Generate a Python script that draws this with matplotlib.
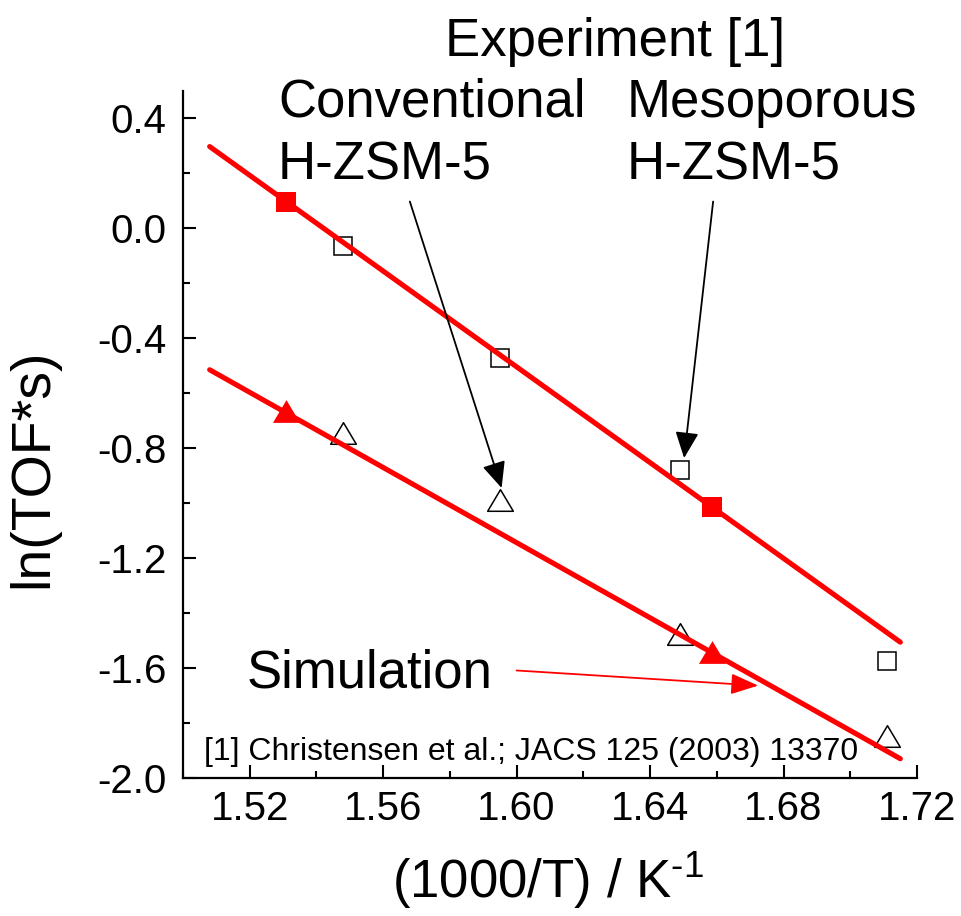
import matplotlib
matplotlib.use("Agg")
from matplotlib import pyplot as plt
from matplotlib.path import Path
from matplotlib.ticker import MultipleLocator, FormatStrFormatter

plt.rcParams["font.family"] = ["Liberation Sans", "DejaVu Sans"]
plt.rcParams["axes.unicode_minus"] = False
plt.rcParams["mathtext.fontset"] = "custom"
plt.rcParams["mathtext.rm"] = "Liberation Sans"
plt.rcParams["mathtext.it"] = "Liberation Sans:italic"

# simulated rates (filled red) and the straight Arrhenius fits through them
sim_x = [1.531, 1.6585]
sim_meso = [0.095, -1.013]
sim_conv = [-0.665, -1.540]
fit_x = [1.508, 1.715]
fit_meso = [0.297, -1.506]
fit_conv = [-0.515, -1.930]

# experimental rates, Christensen et al. (open symbols)
exp_x = [1.548, 1.595, 1.649, 1.711]
exp_meso = [-0.063, -0.471, -0.879, -1.575]
exp_conv = [-0.744, -0.989, -1.477, -1.849]

# flattened up-triangle, wider than tall
tri = Path([(0, 0.84), (-1, -0.84), (1, -0.84), (0, 0.84)],
           [Path.MOVETO, Path.LINETO, Path.LINETO, Path.CLOSEPOLY])

fig = plt.figure(figsize=(9.61, 9.16), dpi=100)
ax = fig.add_axes([0.1904, 0.1507, 0.7638, 0.7502])

ax.plot(exp_x, exp_meso, linestyle="", marker="s", markersize=13.5,
        markerfacecolor="white", markeredgecolor="black", markeredgewidth=1.1, zorder=2)
ax.plot(exp_x, exp_conv, linestyle="", marker=tri, markersize=18.5,
        markerfacecolor="white", markeredgecolor="black", markeredgewidth=1.1, zorder=2)

ax.plot(fit_x, fit_meso, color="red", lw=3.7, solid_capstyle="round", zorder=3)
ax.plot(fit_x, fit_conv, color="red", lw=3.7, solid_capstyle="round", zorder=3)

ax.plot(sim_x, sim_meso, linestyle="", marker="s", markersize=15,
        color="red", markeredgewidth=0, zorder=4)
ax.plot(sim_x, sim_conv, linestyle="", marker=tri, markersize=19.5,
        color="red", markeredgewidth=0, zorder=4)

ax.set_xlim(1.50, 1.72)
ax.set_ylim(-2.0, 0.5)
ax.xaxis.set_major_locator(MultipleLocator(0.04))
ax.xaxis.set_minor_locator(MultipleLocator(0.02))
ax.yaxis.set_major_locator(MultipleLocator(0.4))
ax.yaxis.set_minor_locator(MultipleLocator(0.2))
ax.xaxis.set_major_formatter(FormatStrFormatter("%.2f"))
ax.yaxis.set_major_formatter(FormatStrFormatter("%.1f"))

for side in ["top", "right"]:
    ax.spines[side].set_visible(False)
for side in ["left", "bottom"]:
    ax.spines[side].set_linewidth(1.6)

ax.tick_params(which="both", direction="in", width=1.5, top=False, right=False)
ax.tick_params(which="major", length=9.5, labelsize=29)
ax.tick_params(which="minor", length=5)
ax.tick_params(axis="x", which="major", pad=9)
ax.tick_params(axis="y", which="major", pad=12)

ax.set_xlabel(r"(1000/T) / K$^{\text{-1}}$", fontsize=38)
ax.set_ylabel("ln(TOF*s)", fontsize=40)
ax.xaxis.set_label_coords(0.497, -0.105)
ax.yaxis.set_label_coords(-0.168, 0.45)

# labels above and inside the plot
W, H = 961.0, 916.0
def label(px, py, s, size=38):
    fig.text(px / W, 1 - py / H, s, fontsize=size, ha="left", va="baseline")

label(445, 56, "Experiment [1]")
label(278, 117, "Conventional")
label(278, 180, "H-ZSM-5")
label(627, 117, "Mesoporous")
label(627, 180, "H-ZSM-5")
label(247, 688, "Simulation")
label(204, 760, "[1] Christensen et al.; JACS 125 (2003) 13370", size=23)

black_arrow = dict(arrowstyle="-|>,head_length=1.0,head_width=0.45", color="black",
                   lw=1.3, shrinkA=0, shrinkB=0, mutation_scale=16)
red_arrow = dict(arrowstyle="-|>,head_length=1.05,head_width=0.4", color="red",
                 lw=1.3, shrinkA=0, shrinkB=0, mutation_scale=16)
ax.annotate("", xy=(1.5955, -0.945), xytext=(1.568, 0.097),
            arrowprops=black_arrow, annotation_clip=False)
ax.annotate("", xy=(1.6502, -0.836), xytext=(1.6589, 0.097),
            arrowprops=black_arrow, annotation_clip=False)
ax.annotate("", xy=(1.6724, -1.664), xytext=(1.600, -1.609),
            arrowprops=red_arrow, annotation_clip=False)

fig.savefig("out.png", dpi=100)
